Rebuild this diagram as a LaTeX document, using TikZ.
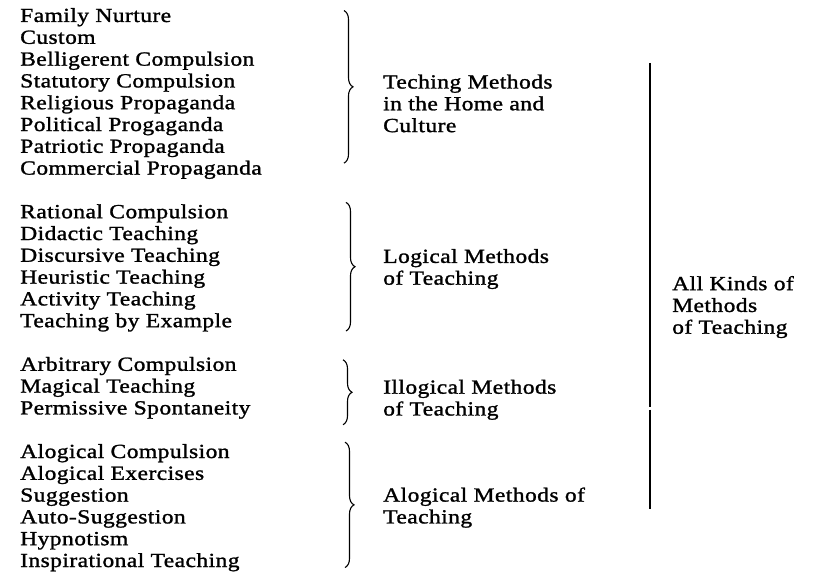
\documentclass[tikz,border=0pt]{standalone}
\usepackage{fontspec}
\setmainfont{Liberation Serif}[FakeStretch=1.18, LetterSpace=2, FakeBold=1.3]
\usetikzlibrary{decorations.pathreplacing}
\begin{document}
\begin{tikzpicture}[x=1pt,y=-1pt,
  declare function={rowy(\n)=16+21.8*(\n-1); basey(\n)=rowy(\n)+6;},
  item/.style={anchor=base west, inner sep=0pt, font=\fontsize{20}{20}\selectfont},
  bracestyle/.style={decorate, decoration={brace, amplitude=9pt}, line width=1.1pt},
  rule/.style={line width=2.8pt}]
\useasboundingbox (0,0) rectangle (814,578);
% group 1 (rows 1-8)
\foreach \t [count=\i] in {Family Nurture, Custom, Belligerent Compulsion, Statutory Compulsion, Religious Propaganda, Political Progaganda, Patriotic Propaganda, Commercial Propaganda}
  \node[item] (a\i) at (20,{basey(\i)}) {\t};
% group 2 (rows 10-15)
\foreach \t [count=\i] in {Rational Compulsion, Didactic Teaching, Discursive Teaching, Heuristic Teaching, Activity Teaching, Teaching by Example}
  \node[item] (b\i) at (20,{basey(\i+9)}) {\t};
% group 3 (rows 17-19)
\foreach \t [count=\i] in {Arbitrary Compulsion, Magical Teaching, Permissive Spontaneity}
  \node[item] (c\i) at (20,{basey(\i+16)}) {\t};
% group 4 (rows 21-26)
\foreach \t [count=\i] in {Alogical Compulsion, Alogical Exercises, Suggestion, Auto-Suggestion, Hypnotism, Inspirational Teaching}
  \node[item] (d\i) at (20,{basey(\i+20)}) {\t};

% labels
\node[item] (la1) at (383,{basey(4.05)}) {Teching Methods};
\node[item] (la2) at (383,{basey(5.05)}) {in the Home and};
\node[item] (la3) at (383,{basey(6.05)}) {Culture};
\node[item] (lb1) at (383,{basey(12.05)}) {Logical Methods};
\node[item] (lb2) at (383,{basey(13.05)}) {of Teaching};
\node[item] (lc1) at (383,{basey(18.05)}) {Illogical Methods};
\node[item] (lc2) at (383,{basey(19.05)}) {of Teaching};
\node[item] (ld1) at (383,{basey(23)}) {Alogical Methods of};
\node[item] (ld2) at (383,{basey(24)}) {Teaching};
\node[item] (all1) at (672,{basey(13.3)}) {All Kinds of};
\node[item] (all2) at (672,{basey(14.3)}) {Methods};
\node[item] (all3) at (672,{basey(15.3)}) {of Teaching};

% braces
\coordinate (g1t) at (344,{rowy(0.75)});  \coordinate (g1b) at (344,{rowy(7.75)});
\coordinate (g2t) at (346,{rowy(9.55)});  \coordinate (g2b) at (346,{rowy(15.45)});
\coordinate (g3t) at (343,{rowy(16.77)}); \coordinate (g3b) at (343,{rowy(19.75)});
\coordinate (g4t) at (345,{rowy(20.55)}); \coordinate (g4b) at (345,{rowy(26.3)});
\draw[bracestyle] (g1t) -- (g1b);
\draw[bracestyle] (g2t) -- (g2b);
\draw[bracestyle] (g3t) -- (g3b);
\draw[bracestyle] (g4t) -- (g4b);

% vertical rule
\coordinate (vt) at (650,{rowy(3.15)});
\coordinate (vg1) at (650,{rowy(19)-1.2});
\coordinate (vg2) at (650,{rowy(19)+1.2});
\coordinate (vb) at (650,{rowy(23.6)});
\draw[rule] (vt) -- (vg1);
\draw[rule] (vg2) -- (vb);
\end{tikzpicture}
\end{document}
